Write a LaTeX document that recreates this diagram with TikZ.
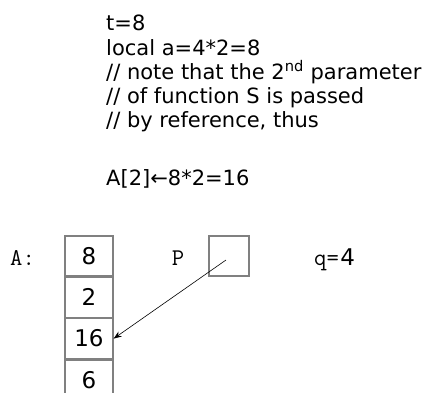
\documentclass[tikz,border=0pt]{standalone}
\usepackage{fontspec}
\setmainfont{DejaVu Sans}
\usepackage{tikz}
\usetikzlibrary{arrows.meta, positioning}

\begin{document}
\begin{tikzpicture}[x=1pt, y=-1pt,
  line/.style={font=\fontsize{21}{24}\selectfont, anchor=base west, inner sep=0pt},
  cell/.style={draw=black!50, line width=1.3pt, minimum width=48pt, minimum height=40pt,
               inner sep=0pt, font=\fontsize{23}{26}\selectfont},
  code/.style={font=\ttfamily\fontsize{24}{26}\selectfont, inner sep=0pt},
  arr/.style={-{Stealth[length=8pt, width=6pt]}, line width=0.6pt}
]
  \clip (0,0) rectangle (429,392);
  \useasboundingbox (0,0) rectangle (429,392);

  % Trace of the call
  \node[line] (l1) at (106, 30) {t=8};
  \node[line] (l2) at (106, 55) {local a=4*2=8};
  \node[line] (l3) at (106, 79) {// note that the 2\textsuperscript{nd} parameter};
  \node[line] (l4) at (106, 103) {// of function S is passed};
  \node[line] (l5) at (106, 127) {// by reference, thus};
  \node[line] (l6) at (106, 185) {A[2]←8*2=16};

  % Array A
  \node[code, anchor=base west] (alab) at (10, 265) {A:};
  \node[cell] (a1) at (89, 256) {8};
  \node[cell, below=0pt of a1] (a2) {2};
  \node[cell, below=0pt of a2] (a3) {16};
  \node[cell, below=0pt of a3] (a4) {6};

  % Pointer P
  \node[code, anchor=base] (plab) at (178, 265) {P};
  \node[cell, minimum width=40pt] (p) at (229, 256) {};

  % Value q
  \node[code, anchor=base west] (qlab) at (314, 265) {q=};
  \node[inner sep=0pt, font=\fontsize{23}{26}\selectfont,
        right=1pt of qlab.base east, anchor=base west] (qval) {4};

  \draw[arr] (226, 260) -- (a3.east);
\end{tikzpicture}
\end{document}
